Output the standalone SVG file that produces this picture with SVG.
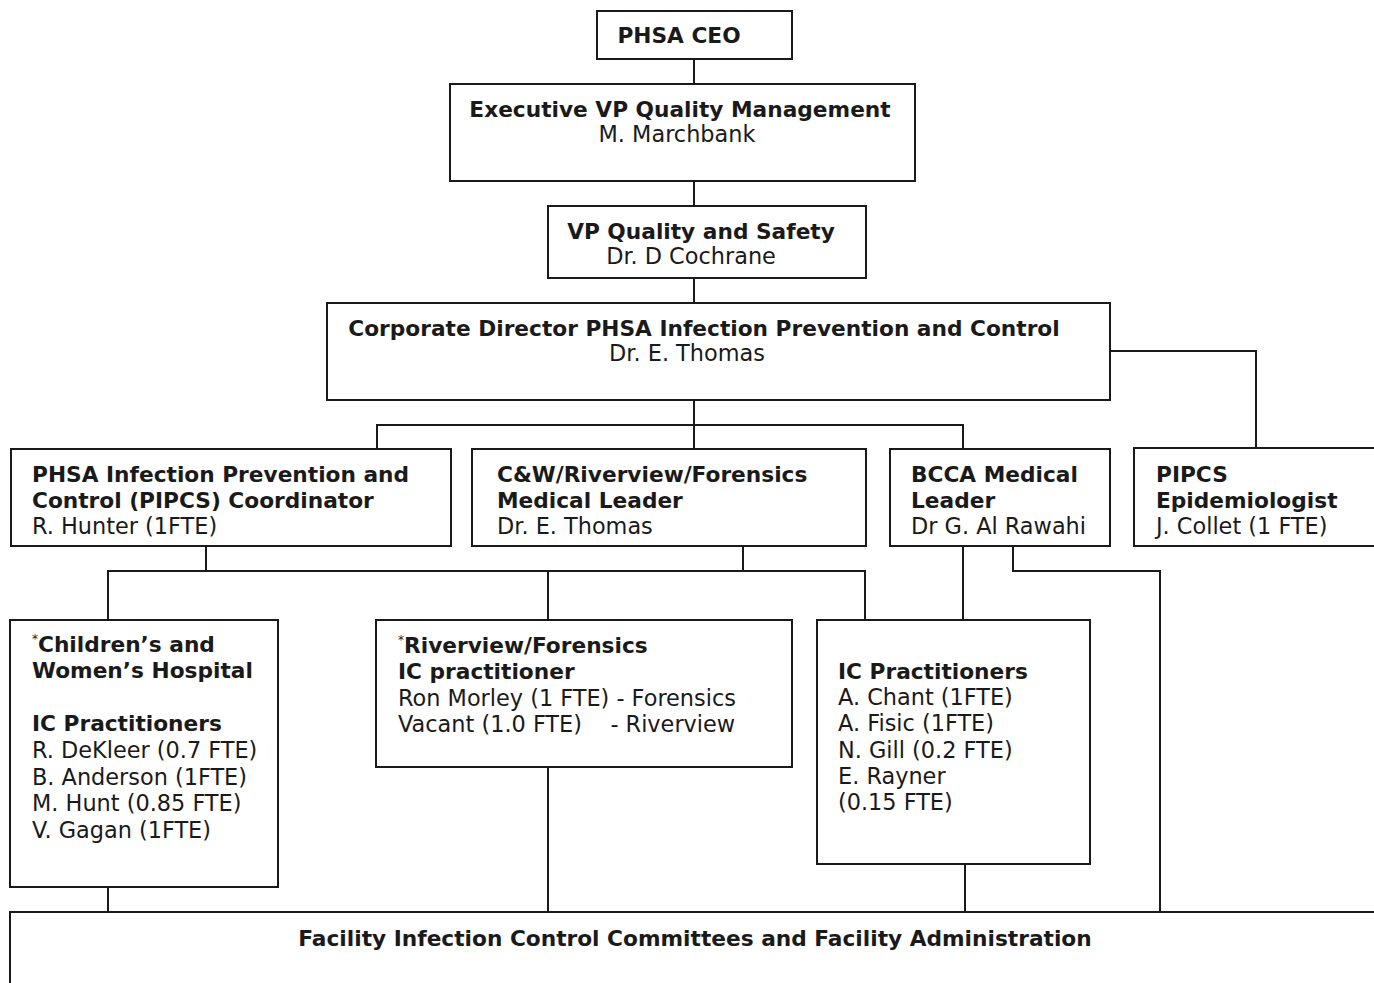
<svg xmlns="http://www.w3.org/2000/svg" width="1374" height="983" viewBox="0 0 1374 983">
<style>
.box{fill:#fff;stroke:#1a1a1a;stroke-width:2}
.ln{fill:none;stroke:#1a1a1a;stroke-width:2}
text{font-family:"DejaVu Sans",Verdana,sans-serif;font-size:22.4px;fill:#1a1a1a}
.b{font-weight:bold;font-size:21.7px}
.c{text-anchor:middle}
.sup{font-size:12px}
</style>
<rect width="1374" height="983" fill="#fff"/>
<g id="connectors">
<path class="ln" d="M694 59V303"/>
<path class="ln" d="M1110 351H1256V448"/>
<path class="ln" d="M694 400V449M377 449V425H963V449"/>
<path class="ln" d="M206 546V571M743 546V571M108 620V571H865V620M548 571V620"/>
<path class="ln" d="M963 546V620M1013 546V571H1160V912"/>
<path class="ln" d="M108 887V912M548 767V912M965 864V912"/>
</g>
<g id="ceo">
<rect class="box" x="597" y="11" width="195" height="48"/>
<text class="b c" x="679" y="43">PHSA CEO</text>
</g>
<g id="evp">
<rect class="box" x="450" y="84" width="465" height="97"/>
<text class="b c" x="680" y="117">Executive VP Quality Management</text>
<text class="c" x="677" y="142">M. Marchbank</text>
</g>
<g id="vpqs">
<rect class="box" x="548" y="206" width="318" height="72"/>
<text class="b c" x="701" y="239">VP Quality and Safety</text>
<text class="c" x="691" y="264">Dr. D Cochrane</text>
</g>
<g id="corpdir">
<rect class="box" x="327" y="303" width="783" height="97"/>
<text class="b c" x="704" y="336">Corporate Director PHSA Infection Prevention and Control</text>
<text class="c" x="687" y="361">Dr. E. Thomas</text>
</g>
<g id="pipcs-coord">
<rect class="box" x="11" y="449" width="440" height="97"/>
<text x="32" y="482"><tspan class="b">PHSA Infection Prevention and</tspan><tspan class="b" x="32" dy="26">Control (PIPCS) Coordinator</tspan><tspan x="32" dy="26">R. Hunter (1FTE)</tspan></text>
</g>
<g id="cw-leader">
<rect class="box" x="472" y="449" width="394" height="97"/>
<text x="497" y="482"><tspan class="b">C&amp;W/Riverview/Forensics</tspan><tspan class="b" x="497" dy="26">Medical Leader</tspan><tspan x="497" dy="26">Dr. E. Thomas</tspan></text>
</g>
<g id="bcca-leader">
<rect class="box" x="890" y="449" width="220" height="97"/>
<text x="911" y="482"><tspan class="b">BCCA Medical</tspan><tspan class="b" x="911" dy="26">Leader</tspan><tspan x="911" dy="26">Dr G. Al Rawahi</tspan></text>
</g>
<g id="pipcs-epi">
<rect class="box" x="1134" y="448" width="260" height="98"/>
<text x="1156" y="482"><tspan class="b">PIPCS</tspan><tspan class="b" x="1156" dy="26">Epidemiologist</tspan><tspan x="1156" dy="26">J. Collet (1 FTE)</tspan></text>
</g>
<g id="cw-ic">
<rect class="box" x="10" y="620" width="268" height="267"/>
<text x="32" y="652"><tspan class="sup" dy="-9">*</tspan><tspan class="b" dy="9">Children’s and</tspan><tspan class="b" x="32" dy="26">Women’s Hospital</tspan><tspan class="b" x="32" dy="53">IC Practitioners</tspan><tspan x="32" dy="27">R. DeKleer (0.7 FTE)</tspan><tspan x="32" dy="27">B. Anderson (1FTE)</tspan><tspan x="32" dy="26">M. Hunt (0.85 FTE)</tspan><tspan x="32" dy="27">V. Gagan (1FTE)</tspan></text>
</g>
<g id="rf-ic">
<rect class="box" x="376" y="620" width="416" height="147"/>
<text x="398" y="653"><tspan class="sup" dy="-9">*</tspan><tspan class="b" dy="9">Riverview/Forensics</tspan><tspan class="b" x="398" dy="26">IC practitioner</tspan><tspan x="398" dy="27">Ron Morley (1 FTE) - Forensics</tspan><tspan x="398" dy="26" xml:space="preserve">Vacant (1.0 FTE)    - Riverview</tspan></text>
</g>
<g id="bcca-ic">
<rect class="box" x="817" y="620" width="273" height="244"/>
<text x="838" y="679"><tspan class="b">IC Practitioners</tspan><tspan x="838" dy="26">A. Chant (1FTE)</tspan><tspan x="838" dy="26">A. Fisic (1FTE)</tspan><tspan x="838" dy="27">N. Gill (0.2 FTE)</tspan><tspan x="838" dy="26">E. Rayner</tspan><tspan x="838" dy="26">(0.15 FTE)</tspan></text>
</g>
<g id="facility">
<rect class="box" x="10" y="912" width="1380" height="100"/>
<text class="b c" x="695" y="946">Facility Infection Control Committees and Facility Administration</text>
</g>
</svg>
